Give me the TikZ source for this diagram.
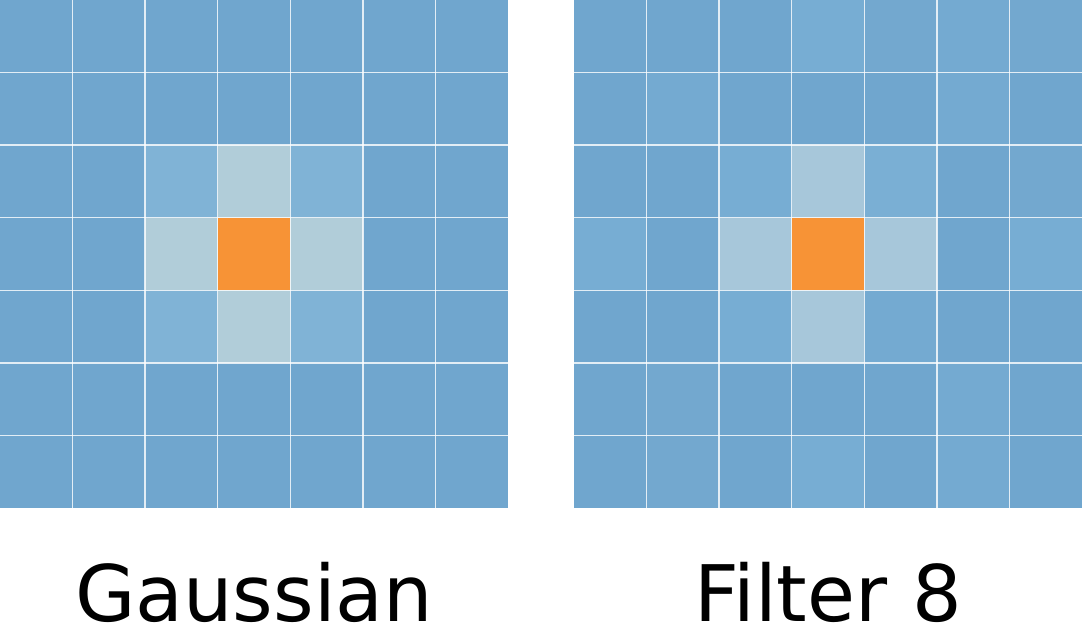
\documentclass[tikz,border=0pt]{standalone}
\usepackage{fontspec}
\setmainfont{DejaVu Sans}
\definecolor{cbase}{HTML}{70A6CE}
\definecolor{cdiag}{HTML}{80B3D6}
\definecolor{ccross}{HTML}{B1CDD9}
\definecolor{ccrossb}{HTML}{A7C7DA}
\definecolor{ccenter}{HTML}{F79336}
\definecolor{cl1}{HTML}{77ADD3}
\definecolor{cl2}{HTML}{74AAD1}
\definecolor{cl3}{HTML}{7AAFD4}
\definecolor{cl4}{HTML}{73A8CF}
\tikzset{
  gridline/.style={white, opacity=0.8, line width=1.4pt},
  label/.style={font=\fontsize{78}{80}\selectfont, anchor=base, inner sep=0pt, text depth=0pt}
}
\newcommand{\cellfill}[4]{% x0, row, col, color
  \fill[#4] ({#1+#3*508/7},{#2*508/7}) rectangle ({#1+(#3+1)*508/7},{(#2+1)*508/7});}
\begin{document}
\begin{tikzpicture}[x=1pt,y=-1pt]
\useasboundingbox (0,0) rectangle (1082,636);
\fill[white] (0,0) rectangle (1082,636);
% left grid
\fill[cbase] (0,0) rectangle (508,508);
\cellfill{0}{2}{2}{cdiag}
\cellfill{0}{2}{4}{cdiag}
\cellfill{0}{4}{2}{cdiag}
\cellfill{0}{4}{4}{cdiag}
\cellfill{0}{2}{3}{ccross}
\cellfill{0}{4}{3}{ccross}
\cellfill{0}{3}{2}{ccross}
\cellfill{0}{3}{4}{ccross}
\cellfill{0}{3}{3}{ccenter}
\foreach \i in {1,...,6} {
  \draw[gridline] ({\i*508/7},0) -- ({\i*508/7},508);
  \draw[gridline] (0,{\i*508/7}) -- (508,{\i*508/7});
}
% right grid
\fill[cbase] (574,0) rectangle (1082,508);
\cellfill{574}{0}{3}{cl1}
\cellfill{574}{0}{4}{cl4}
\cellfill{574}{0}{5}{cl2}
\cellfill{574}{0}{6}{cl4}
\cellfill{574}{1}{1}{cl2}
\cellfill{574}{1}{5}{cl2}
\cellfill{574}{2}{2}{cl1}
\cellfill{574}{2}{4}{cl3}
\cellfill{574}{2}{6}{cl4}
\cellfill{574}{3}{0}{cl1}
\cellfill{574}{3}{6}{cl1}
\cellfill{574}{4}{2}{cl1}
\cellfill{574}{4}{4}{cl2}
\cellfill{574}{5}{1}{cl4}
\cellfill{574}{5}{5}{cl2}
\cellfill{574}{6}{1}{cl4}
\cellfill{574}{6}{3}{cl1}
\cellfill{574}{6}{5}{cl2}
\cellfill{574}{2}{3}{ccrossb}
\cellfill{574}{4}{3}{ccrossb}
\cellfill{574}{3}{2}{ccrossb}
\cellfill{574}{3}{4}{ccrossb}
\cellfill{574}{3}{3}{ccenter}
\foreach \i in {1,...,6} {
  \draw[gridline] ({574+\i*508/7},0) -- ({574+\i*508/7},508);
  \draw[gridline] (574,{\i*508/7}) -- (1082,{\i*508/7});
}
\node[label] (gauss) at (254,621) {Gaussian};
\node[label] (filt) at (828,621) {Filter 8};
\end{tikzpicture}
\end{document}
